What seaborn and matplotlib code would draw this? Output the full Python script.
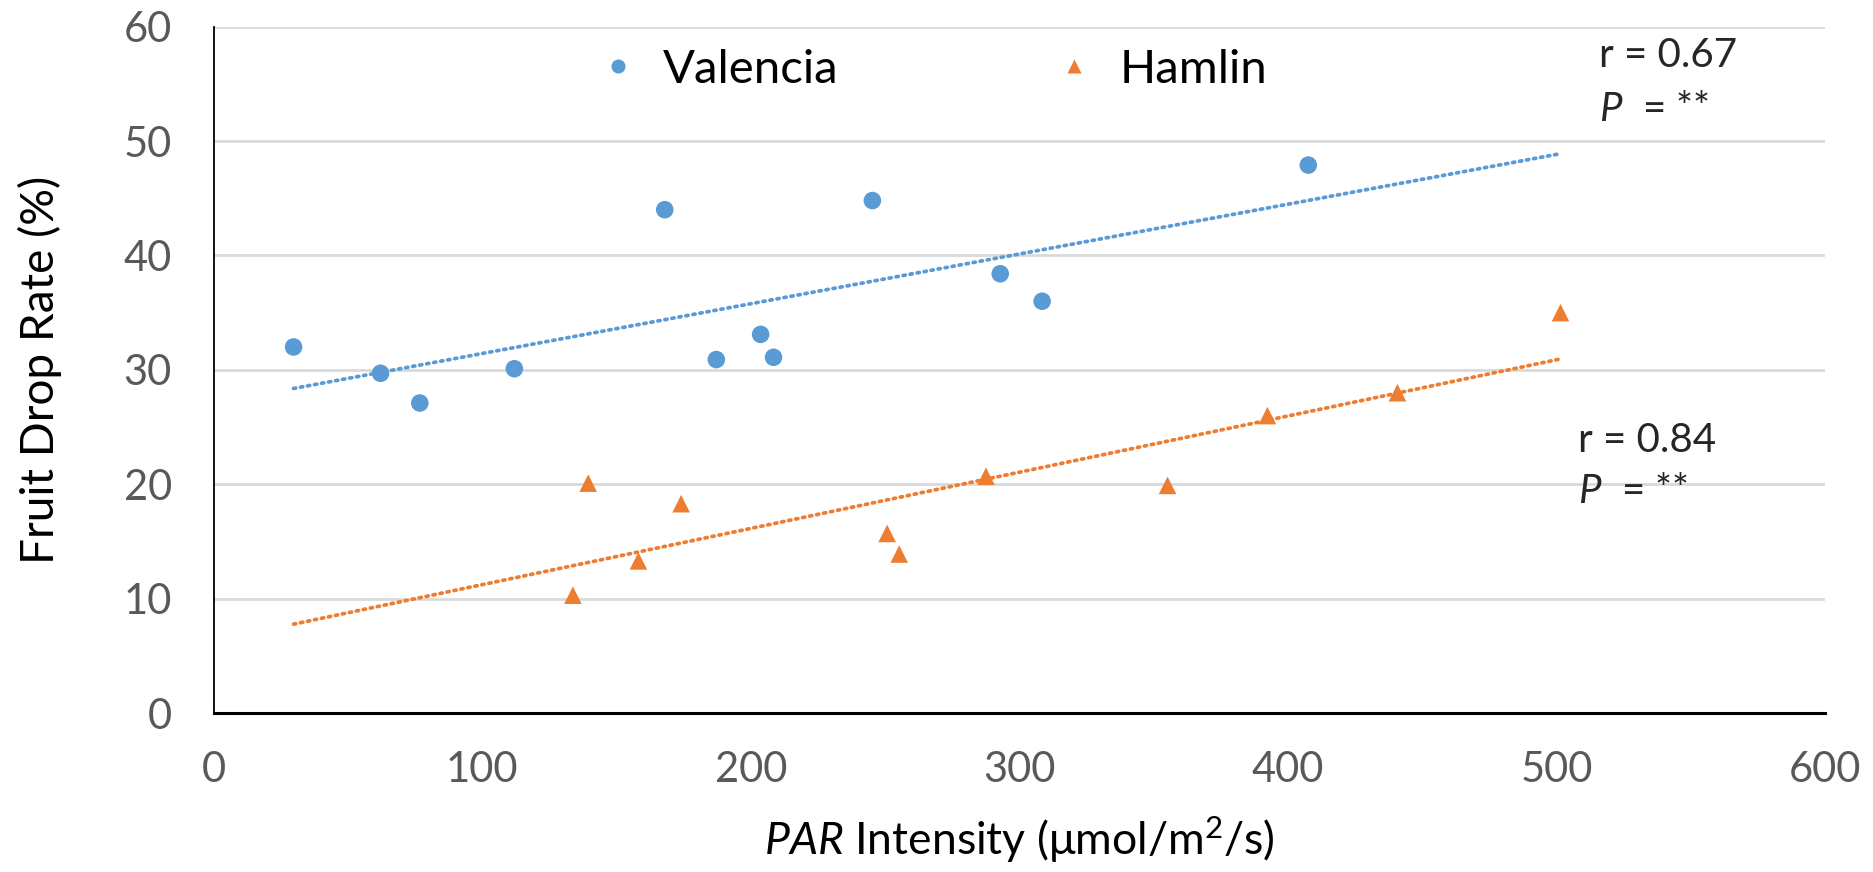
import numpy as np
import pandas as pd
import matplotlib
matplotlib.use("Agg")
import matplotlib.pyplot as plt
import seaborn as sns

# ---- data ----
valencia_x = [29.8, 62.2, 76.8, 112.0, 168.0, 187.2, 203.7, 208.5, 245.3, 292.9, 308.5, 407.6]
valencia_y = [32.0, 29.7, 27.1, 30.1, 44.0, 30.9, 33.1, 31.1, 44.8, 38.4, 36.0, 47.9]
hamlin_x = [133.8, 139.5, 158.2, 174.1, 250.8, 255.3, 287.6, 355.2, 392.4, 440.8, 501.5]
hamlin_y = [10.3, 20.1, 13.3, 18.3, 15.7, 13.9, 20.7, 19.9, 26.0, 28.0, 35.0]
series_names = ["Valencia", "Hamlin"]
stat_texts = [("r = 0.67", "$\\mathit{P}$  = **"), ("r = 0.84", "$\\mathit{P}$  = **")]
x_ticks = [0, 100, 200, 300, 400, 500, 600]
y_ticks = [0, 10, 20, 30, 40, 50, 60]

colors = {"Valencia": "#5B9BD5", "Hamlin": "#ED7D31"}
markers = {"Valencia": "o", "Hamlin": "^"}

sns.set_theme(style="white")
plt.rcParams["font.family"] = ["Lato", "DejaVu Sans"]
plt.rcParams["mathtext.fontset"] = "custom"
plt.rcParams["mathtext.rm"] = "Lato"
plt.rcParams["mathtext.it"] = "Lato:italic"

df = pd.DataFrame({
    "x": valencia_x + hamlin_x,
    "y": valencia_y + hamlin_y,
    "Cultivar": [series_names[0]] * len(valencia_x) + [series_names[1]] * len(hamlin_x),
})

fig = plt.figure(figsize=(18.73, 8.72), dpi=100)
ax = fig.add_axes([0.114, 0.1823, 0.8604, 0.7871])

# grid
ax.set_axisbelow(True)
ax.yaxis.grid(True, color="#D9D9D9", linewidth=2)
ax.xaxis.grid(False)

# trend lines
xmin = min(valencia_x + hamlin_x)
xmax = max(valencia_x + hamlin_x)
xs = np.array([xmin, xmax])
for name, xv, yv in [(series_names[0], valencia_x, valencia_y), (series_names[1], hamlin_x, hamlin_y)]:
    k, b = np.polyfit(xv, yv, 1)
    ax.plot(xs, k * xs + b, linestyle=(0, (0.6, 1.3)), color=colors[name], linewidth=2.7,
            dash_capstyle="round", zorder=2)

sns.scatterplot(data=df, x="x", y="y", hue="Cultivar", style="Cultivar",
                palette=colors, markers=markers, s=160, edgecolor="none",
                ax=ax, zorder=3)

ax.set_xlim(0, 600)
ax.set_ylim(0, 60)
ax.set_xticks(x_ticks)
ax.set_yticks(y_ticks)
ax.tick_params(axis="both", which="both", length=0, labelsize=30, colors="#595959")
ax.tick_params(axis="x", pad=27)
ax.tick_params(axis="y", pad=30)

for s in ["top", "right"]:
    ax.spines[s].set_visible(False)
for s in ["left", "bottom"]:
    ax.spines[s].set_visible(True)
    ax.spines[s].set_color("#000000")
ax.spines["left"].set_linewidth(1.3)
ax.spines["bottom"].set_linewidth(2.2)

ax.set_ylabel("Fruit Drop Rate (%)", fontsize=33, color="#000000")
ax.set_xlabel("$\\mathit{PAR}$ Intensity (μmol/m$^2$/s)", fontsize=32, color="#000000")
ax.yaxis.set_label_coords(-0.094, 0.5)
ax.xaxis.set_label_coords(0.5, -0.148)

# stats annotations
ax.text(516, 57.5, stat_texts[0][0], fontsize=29, va="center", ha="left")
ax.text(516, 52.8, stat_texts[0][1], fontsize=29, va="center", ha="left")
ax.text(508, 23.8, stat_texts[1][0], fontsize=29, va="center", ha="left")
ax.text(508, 19.4, stat_texts[1][1], fontsize=29, va="center", ha="left")

leg = ax.legend(loc="upper center", bbox_to_anchor=(0.445, 1.03), ncol=2, frameon=False,
                fontsize=34, columnspacing=4.5, handlelength=1.0, handletextpad=0.45,
                markerscale=0.8)
for t in leg.get_texts():
    t.set_color("#000000")

fig.savefig("out.png", dpi=100)
